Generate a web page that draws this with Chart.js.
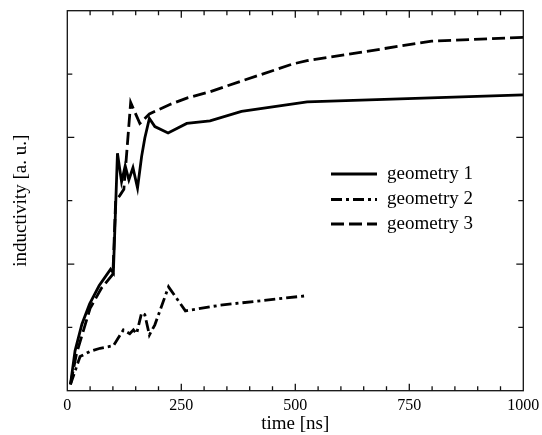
<!DOCTYPE html>
<html>
<head>
<meta charset="utf-8">
<script src="https://cdn.jsdelivr.net/npm/chart.js@4/dist/chart.umd.min.js"></script>
<style>
  html, body { margin: 0; padding: 0; background: #fff; }
  #wrap { width: 542px; height: 435px; }
</style>
</head>
<body>
<div id="wrap"><canvas id="chart" width="542" height="435"></canvas></div>
<script>
// valores (tiempo en ns, inductividad en u. a.)
const tGeom1 = [7, 17, 32, 49, 70, 95, 101, 110, 119, 127, 135, 144, 154, 163, 170, 180, 192, 221, 262, 313, 382, 526, 1000];
const vGeom1 = [0.1, 0.63, 1.05, 1.37, 1.66, 1.92, 1.86, 3.75, 3.3, 3.55, 3.33, 3.52, 3.2, 3.7, 3.99, 4.3, 4.17, 4.07, 4.22, 4.26, 4.41, 4.56, 4.67];

const tGeom2 = [7, 28, 50, 72, 101, 123, 137, 145, 152, 163, 170, 180, 192, 222, 259, 335, 525];
const vGeom2 = [0.1, 0.54, 0.62, 0.67, 0.71, 0.96, 0.9, 0.96, 0.9, 1.23, 1.2, 0.88, 1.04, 1.64, 1.26, 1.35, 1.5];

const tGeom3 = [7, 20, 50, 75, 100, 106, 115, 124, 139, 159, 180, 225, 262, 313, 382, 495, 526, 799, 1000];
const vGeom3 = [0.1, 0.58, 1.3, 1.62, 1.84, 3.0, 3.08, 3.18, 4.55, 4.22, 4.37, 4.52, 4.62, 4.72, 4.89, 5.16, 5.21, 5.52, 5.58];

const seriesLabels = ['geometry 1', 'geometry 2', 'geometry 3'];
const xTicks = [0, 250, 500, 750, 1000];

const SERIF = '"Liberation Serif", "DejaVu Serif", serif';

function toPoints(ts, vs) {
    return ts.map((t, i) => ({ x: t, y: vs[i] }));
}

function lineSet(label, pts, dash) {
    return {
        label: label,
        data: pts,
        borderColor: '#000',
        borderWidth: 2.8,
        borderDash: dash,
        borderCapStyle: 'butt',
        pointRadius: 0,
        tension: 0,
        fill: false
    };
}

// marco con ticks hacia adentro en los cuatro lados
const framePlugin = {
    id: 'frame',
    afterDatasetsDraw(chart) {
        const { ctx, chartArea: a, scales } = chart;
        const xs = scales.x, ys = scales.y;
        ctx.save();
        ctx.strokeStyle = '#111';
        ctx.lineWidth = 1.3;
        ctx.setLineDash([]);
        ctx.strokeRect(a.left, a.top, a.right - a.left, a.bottom - a.top);
        ctx.beginPath();
        for (let t = 50; t < 1000; t += 50) {
            const px = xs.getPixelForValue(t);
            const len = (t % 250 === 0) ? 7 : 4.5;
            ctx.moveTo(px, a.bottom); ctx.lineTo(px, a.bottom - len);
            ctx.moveTo(px, a.top); ctx.lineTo(px, a.top + len);
        }
        for (let v = 1; v < 6; v++) {
            const py = ys.getPixelForValue(v);
            const len = (v % 2 === 0) ? 7 : 5;
            ctx.moveTo(a.left, py); ctx.lineTo(a.left + len, py);
            ctx.moveTo(a.right, py); ctx.lineTo(a.right - len, py);
        }
        ctx.stroke();
        ctx.restore();
    }
};

// leyenda dentro del area de la grafica
const legendPlugin = {
    id: 'insideLegend',
    afterDraw(chart) {
        const { ctx } = chart;
        const x0 = 331, x1 = 377, xt = 387;
        const rows = [174, 199.5, 224];
        ctx.save();
        chart.data.datasets.forEach((ds, i) => {
            const y = rows[i];
            ctx.strokeStyle = ds.borderColor;
            ctx.lineWidth = ds.borderWidth;
            ctx.setLineDash(ds.borderDash || []);
            ctx.beginPath();
            ctx.moveTo(x0, y);
            ctx.lineTo(x1, y);
            ctx.stroke();
            ctx.setLineDash([]);
            ctx.fillStyle = '#000';
            ctx.font = '19px ' + SERIF;
            ctx.textBaseline = 'middle';
            ctx.fillText(ds.label, xt, y);
        });
        ctx.restore();
    }
};

const ctx = document.getElementById('chart').getContext('2d');

new Chart(ctx, {
    type: 'line',
    data: {
        datasets: [
            lineSet(seriesLabels[0], toPoints(tGeom1, vGeom1), []),
            lineSet(seriesLabels[1], toPoints(tGeom2, vGeom2), [11, 4, 3, 4]),
            lineSet(seriesLabels[2], toPoints(tGeom3, vGeom3), [13, 5])
        ]
    },
    options: {
        responsive: false,
        animation: false,
        layout: {
            padding: { left: 0, right: 18.7, top: 10.7, bottom: 0 }
        },
        plugins: {
            legend: { display: false },
            tooltip: { enabled: false }
        },
        scales: {
            x: {
                type: 'linear',
                min: 0,
                max: 1000,
                grid: { display: false, drawTicks: false },
                border: { display: false },
                afterBuildTicks: function (scale) {
                    scale.ticks = xTicks.map(v => ({ value: v }));
                },
                afterFit: function (scale) {
                    scale.height = 44.3;
                    scale.paddingLeft = 0;
                    scale.paddingRight = 0;
                },
                ticks: {
                    color: '#000',
                    padding: 5,
                    maxRotation: 0,
                    font: { family: SERIF, size: 16 },
                    callback: function (value) {
                        return String(value);
                    }
                },
                title: {
                    display: true,
                    text: 'time [ns]',
                    color: '#000',
                    padding: { top: 0, bottom: 0 },
                    font: { family: SERIF, size: 19 }
                }
            },
            y: {
                type: 'linear',
                min: 0,
                max: 6,
                grid: { display: false, drawTicks: false },
                border: { display: false },
                ticks: { display: false, stepSize: 1 },
                afterFit: function (scale) {
                    scale.width = 67.3;
                },
                title: {
                    display: true,
                    text: 'inductivity [a. u.]',
                    color: '#000',
                    padding: { top: 10, bottom: 0 },
                    font: { family: SERIF, size: 19 }
                }
            }
        }
    },
    plugins: [framePlugin, legendPlugin]
});
</script>
</body>
</html>
